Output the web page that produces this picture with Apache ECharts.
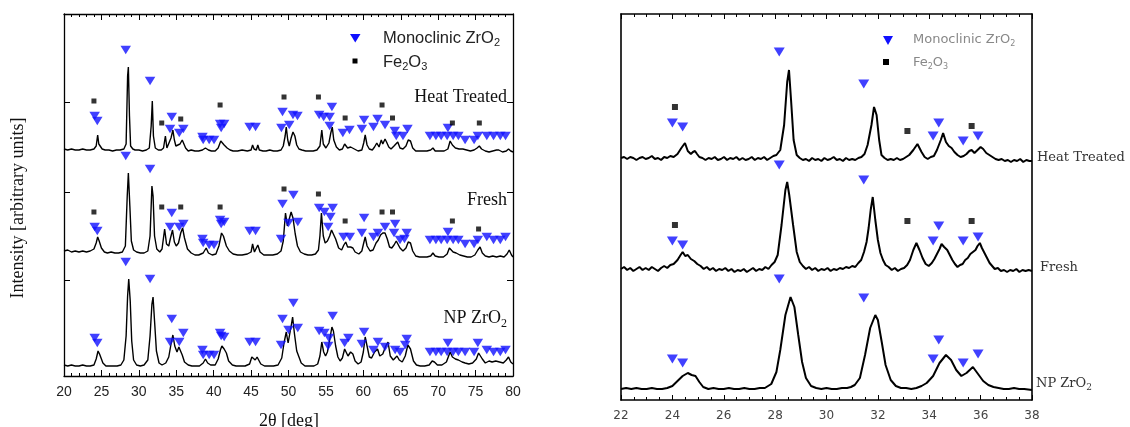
<!DOCTYPE html>
<html>
<head>
<meta charset="utf-8">
<script src="https://cdn.jsdelivr.net/npm/echarts@6/dist/echarts.min.js"></script>
<style>
  html, body { margin: 0; padding: 0; background: #fff; }
  #wide { position: absolute; left: 0; top: 0; width: 600px; height: 427px; }
  #zoom { position: absolute; left: 600px; top: 0; width: 530px; height: 427px; filter: blur(0.6px); }
</style>
</head>
<body>
<div id="wide"></div>
<div id="zoom"></div>
<script>
// ---------- Full scan, 2θ = 20–80° (patterns stacked with vertical offsets) ----------
const heatTreated = [
  [20,227],[20.5,226],[21,227],[21.5,226],[22,226],[22.5,227],[23,226],[23.5,226],[24,227],[24.3,230],[24.5,241],[24.65,232],[24.9,231],[25.1,227],
  [25.5,226],[26,226],[26.5,225],[27,226],[27.5,226],[28,227],[28.3,232],[28.5,300],[28.6,309],[28.75,260],[28.9,230],[29.2,227],[29.5,226],[30,226],
  [30.5,225],[31,226],[31.4,228],[31.65,250],[31.8,275],[31.95,240],[32.2,228],[32.6,226],[33,226],[33.3,228],[33.55,240],[33.75,228],[34,229],[34.3,238],
  [34.55,246],[34.75,236],[34.95,230],[35.2,229],[35.5,232],[35.8,236],[36,237],[36.25,228],[36.6,225],[37,226],[37.5,225],[38,225],[38.5,226],[38.9,228],
  [39.1,230],[39.3,226],[39.7,225],[40.2,225],[40.6,228],[40.95,235],[41.15,237],[41.4,231],[41.8,228],[42.2,226],[42.6,225],[43.2,225],[43.8,226],[44.5,225],
  [45,226],[45.2,231],[45.4,227],[45.7,226],[45.9,231],[46.1,226],[46.6,225],[47,225],[47.5,226],[48,225],[48.5,225],[49,226],[49.3,230],[49.55,240],[49.7,249],
  [49.9,236],[50.1,230],[50.35,238],[50.6,244],[50.85,240],[51.1,231],[51.4,227],[51.8,226],[52.3,225],[52.8,225],[53.3,225],[53.8,226],[54.2,230],[54.45,246],
  [54.65,232],[55,228],[55.4,233],[55.65,243],[55.85,249],[56.05,236],[56.4,229],[56.8,226],[57.2,227],[57.5,232],[57.7,233],[57.9,228],[58.3,229],[58.55,231],
  [58.8,227],[59.3,225],[59.8,226],[60.05,233],[60.25,241],[60.5,231],[60.8,227],[61.2,226],[61.5,229],[61.8,233],[62.1,229],[62.4,236],[62.6,232],[62.9,237],
  [63.1,234],[63.4,229],[63.7,227],[64.1,230],[64.35,232],[64.6,234],[64.9,228],[65.3,227],[65.7,230],[66,236],[66.3,235],[66.6,228],[67,225],[67.5,225],
  [68,225],[68.5,225],[69,226],[69.3,228],[69.6,225],[70.2,225],[70.8,225],[71.3,227],[71.6,235],[71.9,231],[72.3,228],[72.8,227],[73.3,227],[73.8,226],
  [74.3,225],[74.8,226],[75.2,228],[75.5,230],[75.8,227],[76.3,225],[76.8,224],[77.3,225],[77.8,226],[78.1,226],[78.6,224],[79.1,225],[79.4,227],[79.7,225],[80,224]
];
const fresh = [
  [20,125],[20.5,126],[21,124],[21.5,125],[22,124],[22.5,125],[23,124],[23.5,125],[24,127],[24.3,133],[24.5,139],[24.7,135],[25,128],[25.4,124],[25.8,123],
  [26.3,124],[26.8,123],[27.3,123],[27.8,124],[28.2,130],[28.45,180],[28.6,203],[28.8,170],[29,135],[29.3,126],[29.7,124],[30.2,123],[30.7,123],[31.2,125],
  [31.5,140],[31.75,190],[31.9,180],[32.1,140],[32.4,127],[32.8,124],[33.1,127],[33.45,147],[33.7,132],[34,130],[34.2,137],[34.5,146],[34.75,134],[35,130],
  [35.3,133],[35.6,143],[35.85,148],[36.1,138],[36.5,127],[37,123],[37.5,121],[38,121],[38.6,123],[39,128],[39.3,123],[39.8,121],[40.3,122],[40.7,130],
  [41.05,143],[41.3,140],[41.7,130],[42.1,125],[42.6,122],[43.2,121],[43.8,121],[44.5,122],[45,124],[45.2,132],[45.45,124],[45.7,125],[45.9,131],[46.2,124],
  [46.7,121],[47.3,121],[47.9,121],[48.5,122],[49,125],[49.3,135],[49.6,163],[49.85,150],[50.1,150],[50.35,164],[50.6,158],[50.9,142],[51.2,130],[51.6,124],
  [52.1,122],[52.6,121],[53.1,121],[53.6,122],[54,126],[54.2,140],[54.4,163],[54.65,140],[54.9,133],[55.2,135],[55.5,140],[55.75,146],[56,144],[56.3,137],
  [56.7,128],[57.1,126],[57.4,131],[57.65,134],[57.9,129],[58.3,129],[58.6,128],[58.9,124],[59.4,122],[59.8,125],[60.05,133],[60.25,139],[60.5,130],[60.9,125],
  [61.3,126],[61.7,133],[62,136],[62.3,141],[62.6,143],[62.9,143],[63.2,137],[63.5,129],[63.8,128],[64.1,131],[64.4,135],[64.6,136],[64.9,128],[65.3,125],
  [65.7,128],[66,134],[66.3,133],[66.6,125],[67,120],[67.5,119],[68,119],[68.5,119],[69,120],[69.3,123],[69.6,120],[70.1,119],[70.7,119],[71.2,122],[71.5,128],
  [71.7,129],[72,124],[72.4,123],[72.9,121],[73.4,120],[73.9,119],[74.4,119],[74.9,121],[75.3,126],[75.6,129],[75.9,123],[76.3,120],[76.8,119],[77.3,120],
  [77.8,119],[78.3,120],[78.8,119],[79.2,122],[79.5,126],[79.8,121],[80,119]
];
const npZrO2 = [
  [20,11],[20.5,10],[21,11],[21.5,10],[22,10],[22.5,11],[23,10],[23.5,10],[24,11],[24.3,17],[24.55,25],[24.75,22],[24.95,20],[25.2,13],[25.6,10],[26.1,10],
  [26.6,10],[27.1,10],[27.6,11],[28,16],[28.3,40],[28.5,80],[28.65,97],[28.85,75],[29.05,35],[29.3,16],[29.7,11],[30.2,10],[30.7,11],[31.2,16],[31.5,40],
  [31.75,72],[31.9,79],[32.1,55],[32.35,25],[32.7,13],[33.1,11],[33.6,13],[34,19],[34.3,32],[34.55,41],[34.8,30],[35.1,24],[35.35,29],[35.55,31],[35.8,21],
  [36.1,14],[36.6,11],[37.1,10],[37.6,10],[38.1,10],[38.6,13],[38.9,17],[39.2,13],[39.6,11],[40.2,11],[40.6,17],[40.9,26],[41.1,30],[41.4,27],[41.7,23],
  [42,15],[42.5,11],[43,10],[43.6,10],[44.2,10],[44.8,12],[45.1,19],[45.3,21],[45.55,16],[45.8,19],[46,17],[46.3,12],[46.8,10],[47.4,10],[48,10],[48.6,11],
  [49.1,18],[49.4,33],[49.7,44],[49.95,33],[50.15,34],[50.4,52],[50.55,59],[50.8,42],[51.1,25],[51.4,19],[51.7,13],[52.2,10],[52.8,10],[53.4,10],[53.9,12],
  [54.2,20],[54.45,34],[54.7,24],[54.95,20],[55.2,24],[55.5,36],[55.8,49],[56,45],[56.3,30],[56.6,19],[56.9,15],[57.2,18],[57.5,27],[57.7,29],[57.95,20],
  [58.3,24],[58.6,22],[58.9,15],[59.3,12],[59.7,14],[60,24],[60.25,39],[60.5,30],[60.8,19],[61.1,18],[61.5,24],[61.9,27],[62.2,20],[62.6,22],[63,30],[63.3,34],
  [63.6,20],[64,16],[64.5,20],[64.8,16],[65.2,14],[65.6,20],[65.95,31],[66.3,27],[66.7,15],[67.1,11],[67.6,10],[68.2,10],[68.8,11],[69.2,15],[69.5,14],
  [69.9,11],[70.5,11],[71.1,14],[71.4,20],[71.6,24],[71.9,19],[72.3,17],[72.7,16],[73.2,14],[73.6,13],[74.1,12],[74.6,13],[75.1,17],[75.4,23],[75.6,25],
  [75.9,17],[76.3,13],[76.8,15],[77.2,14],[77.7,15],[78.2,14],[78.7,13],[79.1,16],[79.4,19],[79.7,14],[80,12]
];

// Reflection markers [2θ, marker height]
const heatZrO2 = [
  [28.25,326],[31.5,295],[24.1,260],[24.45,255],[34.4,259],[34.17,247],[35.4,243],[35.95,247],[38.5,239],[38.6,236],[39.4,236],[40.05,236],[40.86,252],
  [41.4,252],[41.0,248],[44.8,249],[45.6,249],[49.2,264],[49.05,248],[50.1,251],[50.6,261],[51.2,260],[54.1,261],[55.8,269],[54.7,259],[55.5,259],[55.5,250],
  [57.26,243],[58.15,246],[60.1,256],[59.8,247],[61.9,257],[61.35,249],[62.9,251],[64.2,245],[64.4,240],[65.3,240],[65.9,247],[68.9,240],[69.7,240],
  [70.4,240],[71.2,240],[71.3,248],[72.0,240],[72.7,240],[73.6,236],[74.8,236],[75.3,240],[76.5,240],[77.4,240],[78.3,240],[79.0,240]
];
const heatFe2O3 = [[24.0,275],[33.06,253],[35.6,257],[40.86,271],[49.4,279],[54.0,279],[57.57,258],[62.5,271],[63.9,258],[71.9,253],[75.5,253]];
const freshZrO2 = [
  [28.25,220],[31.5,207],[24.1,149],[24.45,145],[34.4,163],[34.17,149],[35.4,149],[35.95,152],[38.5,137],[38.6,133],[39.4,131],[40.05,131],[40.86,156],
  [41.4,154],[41.0,152],[44.8,145],[45.6,145],[49.2,172],[49.0,137],[50.65,181],[50.0,153],[51.24,154],[54.1,168],[55.9,168],[54.8,164],[55.6,159],
  [55.3,149],[57.35,139],[58.2,139],[60.1,158],[59.8,143],[62.9,149],[61.95,143],[61.35,139],[64.25,152],[64.1,143],[64.9,136],[65.8,143],[65.5,137],
  [68.9,136],[69.7,136],[70.4,136],[71.2,136],[71.3,144],[72.0,136],[72.7,136],[73.6,132],[74.8,132],[75.3,136],[76.5,139],[77.4,136],[78.3,136],[79.0,139]
];
const freshFe2O3 = [[24.0,164],[33.06,169],[35.6,169],[40.86,169],[49.4,187],[54.0,182],[57.57,155],[62.5,164],[63.9,164],[71.9,155],[75.4,147]];
const npZrO2Marks = [
  [28.25,114],[31.5,97],[24.1,38],[24.45,33],[34.4,57],[34.17,34],[35.4,34],[35.95,43],[38.5,26],[38.6,21],[39.4,21],[40.05,21],[40.86,43],[41.4,39],
  [41.0,40],[44.8,34],[45.6,34],[49.2,57],[49.0,31],[50.65,73],[50.0,46],[51.24,48],[54.1,45],[55.9,60],[54.8,43],[55.4,38],[55.3,30],[57.5,33],[58.0,38],
  [60.1,44],[59.8,32],[61.95,34],[62.9,29],[61.35,26],[64.25,26],[64.9,24],[65.8,37],[65.6,31],[68.9,24],[69.7,24],[70.4,24],[71.2,24],[71.3,33],[72.0,24],
  [72.7,24],[73.6,24],[74.8,24],[75.3,33],[76.5,26],[77.4,24],[78.3,24],[79.0,26]
];

// ---------- Detail scan, 2θ = 22–38° ----------
const heatTreatedDetail = [
  [22,242],[22.12,243],[22.24,241],[22.36,243],[22.48,242],[22.6,240],[22.72,242],[22.84,243],[22.96,241],[23.08,242],[23.2,244],[23.32,241],[23.44,242],
  [23.56,240],[23.68,243],[23.8,242],[23.92,244],[24.05,243],[24.2,246],[24.35,252],[24.49,257],[24.6,249],[24.72,246],[24.8,248],[24.88,249],[24.96,246],
  [25.05,243],[25.17,242],[25.29,240],[25.41,242],[25.53,241],[25.65,243],[25.77,240],[25.89,241],[26.01,243],[26.13,240],[26.25,242],[26.37,241],[26.49,243],
  [26.61,240],[26.73,242],[26.85,240],[26.97,241],[27.09,243],[27.21,240],[27.33,242],[27.45,241],[27.57,243],[27.69,240],[27.81,242],[27.93,244],[28.05,245],
  [28.2,250],[28.35,275],[28.47,318],[28.54,330],[28.62,300],[28.72,260],[28.84,245],[28.96,242],[29.08,240],[29.2,241],[29.32,239],[29.44,242],[29.56,240],
  [29.68,241],[29.8,239],[29.92,242],[30.04,240],[30.16,241],[30.28,243],[30.4,240],[30.52,241],[30.64,239],[30.76,242],[30.88,240],[31,241],[31.12,240],
  [31.24,242],[31.36,243],[31.48,246],[31.6,255],[31.75,275],[31.85,293],[31.95,285],[32.05,260],[32.14,245],[32.26,242],[32.38,240],[32.5,241],[32.62,240],
  [32.74,242],[32.86,240],[32.98,241],[33.1,243],[33.22,245],[33.38,250],[33.54,256],[33.7,248],[33.82,243],[33.94,241],[34.06,243],[34.18,244],[34.3,250],
  [34.45,260],[34.54,267],[34.65,258],[34.76,254],[34.87,252],[34.98,248],[35.1,245],[35.22,243],[35.34,244],[35.45,246],[35.56,249],[35.65,250],[35.76,247],
  [35.88,250],[36,253],[36.1,251],[36.22,247],[36.34,245],[36.46,243],[36.58,241],[36.7,240],[36.82,241],[36.94,239],[37.06,240],[37.18,238],[37.3,240],
  [37.42,239],[37.54,241],[37.66,238],[37.78,240],[37.9,239],[38,239]
];
const freshDetail = [
  [22,131],[22.12,133],[22.24,130],[22.36,132],[22.48,129],[22.6,131],[22.72,133],[22.84,130],[22.96,132],[23.08,130],[23.2,133],[23.32,131],[23.44,129],
  [23.56,132],[23.68,134],[23.8,132],[23.92,135],[24.05,136],[24.2,140],[24.32,145],[24.4,148],[24.5,144],[24.6,145],[24.72,141],[24.85,139],[24.97,136],
  [25.1,134],[25.22,131],[25.34,133],[25.46,130],[25.58,132],[25.7,129],[25.82,131],[25.94,130],[26.06,132],[26.18,129],[26.3,131],[26.42,128],[26.54,130],
  [26.66,129],[26.78,131],[26.9,128],[27.02,130],[27.14,132],[27.26,129],[27.38,131],[27.5,130],[27.62,133],[27.74,131],[27.86,135],[27.98,138],[28.1,145],
  [28.25,175],[28.4,210],[28.47,218],[28.55,205],[28.7,175],[28.84,148],[28.96,138],[29.08,134],[29.2,131],[29.32,133],[29.44,130],[29.56,132],[29.68,129],
  [29.8,131],[29.92,130],[30.04,132],[30.16,129],[30.28,131],[30.4,130],[30.52,132],[30.64,131],[30.76,133],[30.88,132],[31,134],[31.12,133],[31.24,137],
  [31.35,140],[31.46,148],[31.56,158],[31.64,172],[31.72,190],[31.8,203],[31.9,180],[32,160],[32.1,147],[32.2,140],[32.3,135],[32.42,133],[32.54,130],
  [32.66,132],[32.78,129],[32.9,131],[33.02,132],[33.14,135],[33.25,140],[33.38,150],[33.5,157],[33.62,150],[33.74,142],[33.86,136],[33.98,134],[34.1,137],
  [34.2,141],[34.3,146],[34.4,151],[34.48,156],[34.58,153],[34.7,150],[34.8,145],[34.9,140],[35,136],[35.1,133],[35.2,135],[35.3,136],[35.4,140],[35.5,142],
  [35.6,146],[35.7,148],[35.8,150],[35.88,154],[35.97,157],[36.05,152],[36.15,147],[36.25,142],[36.35,137],[36.45,134],[36.55,131],[36.67,132],[36.79,129],
  [36.91,130],[37.03,128],[37.15,130],[37.27,129],[37.39,131],[37.51,128],[37.63,130],[37.75,129],[37.87,130],[38,129]
];
const npZrO2Detail = [
  [22,11],[22.2,12],[22.4,11],[22.6,12],[22.8,11],[23,11],[23.2,12],[23.4,11],[23.6,11],[23.8,12],[24,14],[24.2,19],[24.4,24],[24.6,27],[24.75,25],[24.9,24],
  [25.05,18],[25.2,13],[25.4,11],[25.6,12],[25.8,11],[26,11],[26.2,12],[26.4,11],[26.6,11],[26.8,12],[27,11],[27.2,11],[27.4,12],[27.6,12],[27.85,16],
  [28.05,28],[28.2,50],[28.4,85],[28.6,103],[28.75,93],[28.9,65],[29.05,38],[29.2,22],[29.4,14],[29.6,12],[29.8,11],[30,12],[30.2,11],[30.4,11],[30.6,12],
  [30.8,12],[30.95,13],[31.1,15],[31.3,22],[31.5,45],[31.7,72],[31.9,85],[32,80],[32.15,58],[32.3,35],[32.5,20],[32.7,14],[32.9,12],[33.1,12],[33.3,11],
  [33.5,12],[33.7,14],[33.9,17],[34.15,24],[34.4,37],[34.65,45],[34.85,40],[35.05,30],[35.25,24],[35.45,27],[35.7,33],[35.9,26],[36.1,19],[36.3,15],
  [36.5,13],[36.7,12],[36.9,11],[37.1,11],[37.3,12],[37.5,11],[37.7,11],[38,10]
];
const heatZrO2Detail = [[28.16,348],[31.45,316],[24.0,277],[24.4,273],[34.37,277],[34.15,264],[35.32,259],[35.9,264]];
const heatFe2O3Detail = [[24.1,293],[33.15,269],[35.65,274]];
const freshZrO2Detail = [[28.16,235],[31.45,220],[24.0,159],[24.4,155],[34.37,174],[34.15,159],[35.32,159],[35.9,163]];
const freshFe2O3Detail = [[24.1,175],[33.15,179],[35.65,179]];
const npZrO2MarksDetail = [[28.16,121],[31.45,102],[24.0,41],[24.4,37],[34.37,60],[34.15,41],[35.32,37],[35.9,46]];

// Axis settings
const wideRange = { min: 20, max: 80, major: 5, minorSplit: 5 };
const zoomRange = { min: 22, max: 38, major: 2, minorSplit: 4 };
const wideYTicks = [96, 184, 274];

const BLUE = '#1010ff';
const SERIF = '"Liberation Serif", "Times New Roman", serif';
const SANS = '"Liberation Sans", Arial, sans-serif';

function curve(data, width) {
  return { type: 'line', data, symbol: 'none', showSymbol: false, silent: true,
           lineStyle: { color: '#000', width }, z: 2, animation: false };
}
function triangles(data, w, h, color) {
  return { type: 'scatter', name: 'Monoclinic ZrO2', data, symbol: 'triangle', symbolRotate: 180,
           symbolSize: [w, h], itemStyle: { color }, z: 3, silent: true, animation: false };
}
function squares(data, s) {
  return { type: 'scatter', name: 'Fe2O3', data, symbol: 'rect', symbolSize: s,
           itemStyle: { color: '#000' }, z: 3, silent: true, animation: false };
}
function xAxis(range, position, label, lineW, tickLen) {
  return {
    type: 'value', position, min: range.min, max: range.max, interval: range.major,
    axisLine: { show: true, onZero: false, lineStyle: { color: '#000', width: lineW } },
    axisTick: { show: true, inside: true, length: tickLen, lineStyle: { color: '#000', width: 1 } },
    minorTick: { show: true, splitNumber: range.minorSplit, length: Math.round(tickLen * 0.55), lineStyle: { color: '#000', width: 1 } },
    splitLine: { show: false },
    axisLabel: label ? label : { show: false }
  };
}
function yAxis(min, max, position, ticks, lineW) {
  const ax = {
    type: 'value', position, min, max,
    axisLine: { show: true, onZero: false, lineStyle: { color: '#000', width: lineW } },
    axisTick: { show: false }, splitLine: { show: false }, axisLabel: { show: false }
  };
  if (ticks) {
    ax.axisTick = { show: true, inside: true, length: 6, customValues: ticks, lineStyle: { color: '#000', width: 1 } };
  }
  return ax;
}
function richLabel(x, y, parts, align, font, size, color, subSize) {
  return {
    type: 'text', x, y, silent: true,
    style: {
      text: parts, align, verticalAlign: 'middle',
      rich: {
        a: { fontFamily: font, fontSize: size, fill: color, color },
        b: { fontFamily: font, fontSize: subSize, fill: color, color, padding: [Math.round(subSize * 0.9), 0, 0, 0] }
      }
    }
  };
}

// ---- full scan chart ----
const wide = echarts.init(document.getElementById('wide'), null, { renderer: 'canvas' });
wide.setOption({
  animation: false,
  grid: { left: 64, top: 14, width: 449, height: 362 },
  xAxis: [
    xAxis(wideRange, 'bottom', { show: true, fontFamily: SANS, fontSize: 14, color: '#222', margin: 9 }, 1.3, 6),
    xAxis(wideRange, 'top', null, 1.3, 6)
  ],
  yAxis: [
    yAxis(0, 362, 'left', wideYTicks, 1.3),
    yAxis(0, 362, 'right', wideYTicks, 1.3)
  ],
  series: [
    curve(heatTreated, 1.4), curve(fresh, 1.4), curve(npZrO2, 1.4),
    triangles(heatZrO2, 10.5, 8.5, BLUE), triangles(freshZrO2, 10.5, 8.5, BLUE), triangles(npZrO2Marks, 10.5, 8.5, BLUE),
    squares(heatFe2O3, 5), squares(freshFe2O3, 5)
  ],
  graphic: [
    { type: 'polygon', silent: true, shape: { points: [[350, 34], [360.5, 34], [355.25, 42.5]] }, style: { fill: BLUE } },
    { type: 'rect', silent: true, shape: { x: 352.5, y: 58.5, width: 5, height: 5 }, style: { fill: '#000' } },
    richLabel(383, 38, '{a|Monoclinic ZrO}{b|2}', 'left', SANS, 16.5, '#222', 11),
    richLabel(383, 62, '{a|Fe}{b|2}{a|O}{b|3}', 'left', SANS, 16.5, '#222', 11),
    richLabel(507, 97, '{a|Heat Treated}', 'right', SERIF, 18, '#111', 12),
    richLabel(507, 200, '{a|Fresh}', 'right', SERIF, 18, '#111', 12),
    richLabel(507, 318, '{a|NP ZrO}{b|2}', 'right', SERIF, 18, '#111', 12),
    { type: 'text', x: 18, y: 208, rotation: Math.PI / 2, silent: true,
      style: { text: 'Intensity [arbitrary units]', align: 'center', verticalAlign: 'middle', fontFamily: SERIF, fontSize: 18, fill: '#111' } },
    { type: 'text', x: 289, y: 421, silent: true,
      style: { text: '2θ [deg]', align: 'center', verticalAlign: 'middle', fontFamily: SERIF, fontSize: 18, fill: '#111' } }
  ]
});

// ---- detail scan chart ----
const ZSANS = '"DejaVu Sans", Verdana, sans-serif';
const ZSERIF = '"DejaVu Serif", serif';
const zoom = echarts.init(document.getElementById('zoom'), null, { renderer: 'canvas' });
zoom.setOption({
  animation: false,
  grid: { left: 21, top: 14, width: 411, height: 386 },
  xAxis: [
    xAxis(zoomRange, 'bottom', { show: true, fontFamily: ZSANS, fontSize: 12, color: '#444', margin: 10 }, 1.6, 5),
    xAxis(zoomRange, 'top', null, 1.6, 5)
  ],
  yAxis: [
    yAxis(0, 386, 'left', null, 1.6),
    yAxis(0, 386, 'right', null, 1.6)
  ],
  series: [
    curve(heatTreatedDetail, 2), curve(freshDetail, 2), curve(npZrO2Detail, 2),
    triangles(heatZrO2Detail, 11, 9, BLUE), triangles(freshZrO2Detail, 11, 9, BLUE), triangles(npZrO2MarksDetail, 11, 9, BLUE),
    squares(heatFe2O3Detail, 6), squares(freshFe2O3Detail, 6)
  ],
  graphic: [
    { type: 'polygon', silent: true, shape: { points: [[283, 36], [293, 36], [288, 45]] }, style: { fill: BLUE } },
    { type: 'rect', silent: true, shape: { x: 283, y: 59, width: 6, height: 6 }, style: { fill: '#000' } },
    richLabel(313, 40, '{a|Monoclinic ZrO}{b|2}', 'left', ZSANS, 13, '#888', 8),
    richLabel(313, 63, '{a|Fe}{b|2}{a|O}{b|3}', 'left', ZSANS, 13, '#888', 8),
    richLabel(437, 158, '{a|Heat Treated}', 'left', ZSERIF, 13, '#333', 9),
    richLabel(440, 268, '{a|Fresh}', 'left', ZSERIF, 13, '#333', 9),
    richLabel(436, 384, '{a|NP ZrO}{b|2}', 'left', ZSERIF, 13, '#333', 9)
  ]
});
</script>
</body>
</html>
